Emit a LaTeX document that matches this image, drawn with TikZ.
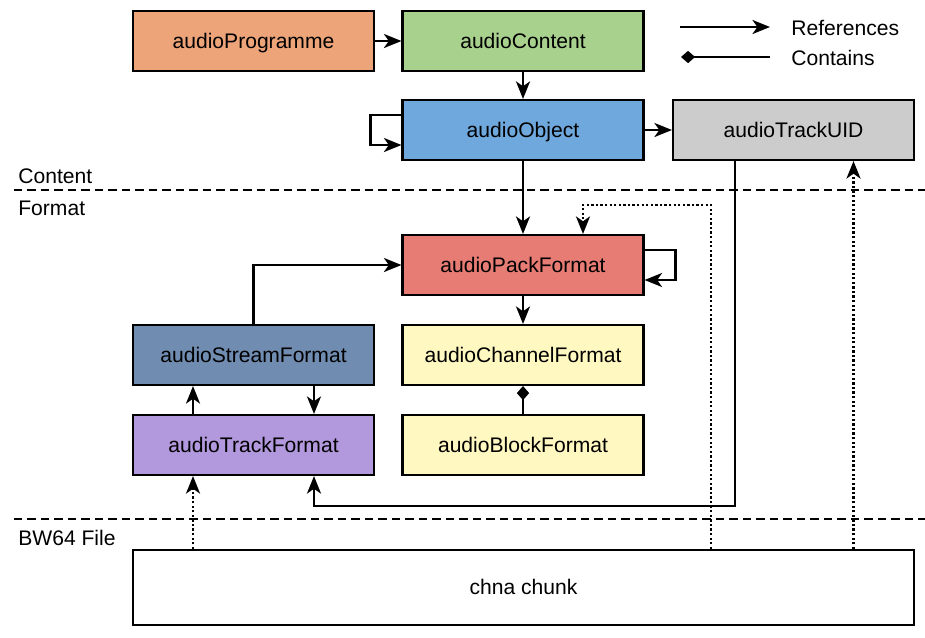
\documentclass[tikz,border=0pt]{standalone}
\usepackage{fontspec}
\setmainfont{Liberation Sans}
\usetikzlibrary{arrows.meta}

\definecolor{progcol}{RGB}{237,164,121}
\definecolor{contcol}{RGB}{169,209,142}
\definecolor{objcol}{RGB}{111,168,220}
\definecolor{uidcol}{RGB}{204,204,204}
\definecolor{packcol}{RGB}{230,124,115}
\definecolor{strcol}{RGB}{112,140,176}
\definecolor{chancol}{RGB}{255,248,192}
\definecolor{trkcol}{RGB}{178,152,220}

\begin{document}
\begin{tikzpicture}[x=0.02cm, y=-0.02cm, font=\fontsize{12}{14}\selectfont,
            box/.style={draw, line width=1.2pt, minimum width=4.82cm, minimum height=1.2cm, inner sep=0pt,
                text height=8.4pt, text depth=0pt},
            ref/.style={-{Stealth[length=10pt,width=8pt,inset=2.8pt]}, line width=1.2pt},
            dotref/.style={ref, dash pattern=on 1.3pt off 1.3pt},
            contains/.style={{Diamond[length=8pt,width=7pt]}-, line width=1.2pt},
            sep/.style={line width=1.2pt, dash pattern=on 0.17cm off 0.1cm},
            lbl/.style={anchor=west, inner sep=0pt}]
                \useasboundingbox (0,0) rectangle (925,637);

                % content part
                \node[box, fill=progcol](prog) at (253.5, 41) {audioProgramme};
                \node[box, fill=contcol](cont) at (523, 41) {audioContent};
                \node[box, fill=objcol](obj) at (523, 130) {audioObject};
                \node[box, fill=uidcol](uid) at (793.5, 130) {audioTrackUID};

                % format part
                \node[box, fill=packcol](pack) at (523, 265) {audioPackFormat};
                \node[box, fill=strcol](str) at (253.5, 355) {audioStreamFormat};
                \node[box, fill=chancol](chan) at (523, 355) {audioChannelFormat};
                \node[box, fill=trkcol](trk) at (253.5, 445) {audioTrackFormat};
                \node[box, fill=chancol](blk) at (523, 445) {audioBlockFormat};

                % file
                \node[box, minimum width=15.62cm, minimum height=1.5cm](chna) at (523.5, 587.5) {chna chunk};

                % separators
                \draw[sep](14, 190) -- (925, 190);
                \draw[sep](14, 519) -- (925, 519);
                \node[lbl](lcont) at (18, 176) {Content};
                \node[lbl](lform) at (18, 208) {Format};
                \node[lbl](lfile) at (18, 538) {BW64 File};

                % legend
                \coordinate(r1) at (680, 27);
                \coordinate(r2) at (770, 27);
                \coordinate(c1) at (681, 57);
                \coordinate(c2) at (770, 57);
                \draw[ref](r1) -- (r2);
                \draw[contains](c1) -- (c2);
                \node[lbl](lref) at (791, 28) {References};
                \node[lbl](lcon) at (791, 58) {Contains};

                \coordinate(t1) at ([xshift=-1.21cm]trk.south);
                \coordinate(u1) at ([xshift=1.2cm]uid.south);

            \begin{scope}[ref]
                \draw(prog) -- (cont);
                \draw(cont) -- (obj);
                \draw(obj) -- (uid);
                \draw(obj) -- (pack);
                \draw([yshift=0.3cm]obj.west) -- ++(-0.62cm, 0) |- ([yshift=-0.3cm]obj.west);
                \draw([yshift=0.3cm]pack.east) -- ++(0.62cm, 0) |- ([yshift=-0.3cm]pack.east);
                \draw(str.north) |- (pack.west);
                \draw(pack) -- (chan);
                \draw([xshift=-1.21cm]trk.north) -- ([xshift=-1.21cm]str.south);
                \draw([xshift=1.21cm]str.south) -- ([xshift=1.21cm]trk.north);
                \draw([xshift=-1.17cm]uid.south) |- ([xshift=1.21cm, yshift=-0.6cm]trk.south) -- ([xshift=1.21cm]trk.south);
            \end{scope}
                \draw[contains](chan) -- (blk);

                \draw[dotref]([xshift=3.75cm]chna.north) |- ([xshift=1.2cm, yshift=0.58cm]pack.north) -- ([xshift=1.2cm]pack.north);
                \draw[dotref](t1 |- chna.north) -- (t1);
                \draw[dotref](u1 |- chna.north) -- (u1);
        \end{tikzpicture}
\end{document}
